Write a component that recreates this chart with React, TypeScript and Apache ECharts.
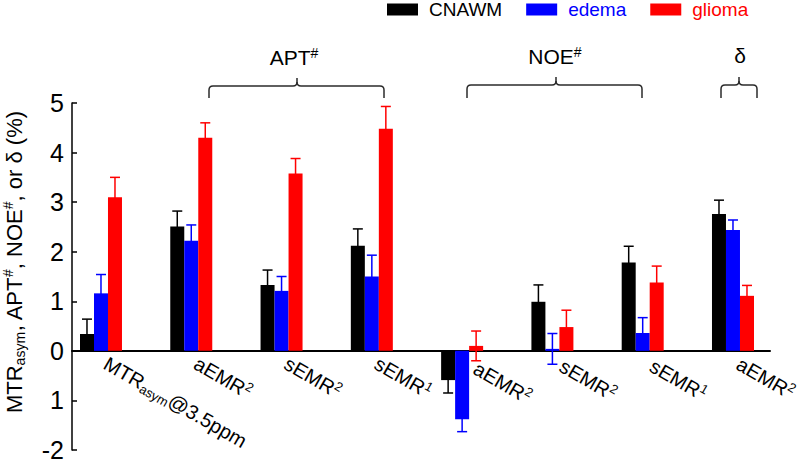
import React, { useEffect, useRef } from "react";
import * as echarts from "echarts";

// ---- data ----
const categories = [
  "MTR_{asym}@3.5ppm",
  "aEMR^{2}",
  "sEMR^{2}",
  "sEMR^{1}",
  "aEMR^{2}",
  "sEMR^{2}",
  "sEMR^{1}",
  "aEMR^{2}",
];
const seriesNames = ["CNAWM", "edema", "glioma"];
const seriesColors = ["#000000", "#0000ff", "#ff0000"];
const cnawm = [0.34, 2.51, 1.33, 2.12, -0.59, 0.99, 1.78, 2.76];
const cnawmErr = [0.3, 0.31, 0.3, 0.34, 0.26, 0.34, 0.33, 0.28];
const edema = [1.16, 2.22, 1.21, 1.5, -1.38, 0.04, 0.36, 2.44];
const edemaErr = [0.38, 0.32, 0.29, 0.43, 0.25, 0.31, 0.31, 0.2];
const glioma = [3.1, 4.3, 3.58, 4.48, 0.1, 0.48, 1.38, 1.11];
const gliomaErr = [0.4, 0.3, 0.3, 0.45, 0.3, 0.34, 0.33, 0.21];
const yTickValues = [-2, -1, 0, 1, 2, 3, 4, 5];
const yTickLabels = ["-2", "1", "0", "1", "2", "3", "4", "5"];
const groupNames = ["APT^{#}", "NOE^{#}", "δ"];
const yTitle = "MTR_{asym}, APT^{#}, NOE^{#}, or δ (%)";

const FONT = "Liberation Sans, Arial, sans-serif";

function toRich(s: string, base: string, sub: string, sup: string) {
  const out: string[] = [];
  const re = /(_\{([^}]*)\}|\^\{([^}]*)\})/g;
  let last = 0;
  let m: RegExpExecArray | null;
  while ((m = re.exec(s))) {
    if (m.index > last) out.push(`{${base}|${s.slice(last, m.index)}}`);
    if (m[2] !== undefined) out.push(`{${sub}|${m[2]}}`);
    else out.push(`{${sup}|${m[3]}}`);
    last = m.index + m[0].length;
  }
  if (last < s.length) out.push(`{${base}|${s.slice(last)}}`);
  return out.join("");
}

function brace(x0: number, x1: number, xm: number, yb: number, yh: number, yp: number) {
  const r = 4;
  const st = { stroke: "#2a2a2a", lineWidth: 1.5, fill: null as any };
  return [
    { type: "line", shape: { x1: x0, y1: yb, x2: x0, y2: yh + r }, style: st },
    { type: "bezierCurve", shape: { x1: x0, y1: yh + r, cpx1: x0, cpy1: yh, x2: x0 + r, y2: yh }, style: st },
    { type: "line", shape: { x1: x0 + r, y1: yh, x2: xm - r, y2: yh }, style: st },
    { type: "bezierCurve", shape: { x1: xm - r, y1: yh, cpx1: xm, cpy1: yh, x2: xm, y2: yh - r }, style: st },
    { type: "bezierCurve", shape: { x1: xm + r, y1: yh, cpx1: xm, cpy1: yh, x2: xm, y2: yh - r }, style: st },
    { type: "line", shape: { x1: xm, y1: yh - r, x2: xm, y2: yp }, style: st },
    { type: "line", shape: { x1: xm + r, y1: yh, x2: x1 - r, y2: yh }, style: st },
    { type: "bezierCurve", shape: { x1: x1 - r, y1: yh, cpx1: x1, cpy1: yh, x2: x1, y2: yh + r }, style: st },
    { type: "line", shape: { x1: x1, y1: yh + r, x2: x1, y2: yb }, style: st },
  ];
}

export default function App() {
  const ref = useRef<HTMLDivElement>(null);
  useEffect(() => {
    if (!ref.current) return;
    const chart = echarts.init(ref.current, undefined, { renderer: "svg" });
    const values = [cnawm, edema, glioma];
    const errs = [cnawmErr, edemaErr, gliomaErr];
    const barW = 14;
    const offsets = [-barW, 0, barW];

    const barSeries = values.map((vals, s) => ({
      type: "bar",
      name: seriesNames[s],
      data: vals.map((v, i) => [i, v]),
      barWidth: barW,
      barGap: "0%",
      itemStyle: { color: seriesColors[s] },
      z: 3,
      silent: true,
    }));
    const errSeries = values.map((vals, s) => ({
      type: "custom",
      name: seriesNames[s] + " SD",
      data: vals.map((v, i) => [i, v - errs[s][i], v + errs[s][i]]),
      encode: { x: 0, y: [1, 2] },
      z: 1,
      silent: true,
      renderItem: (params: any, api: any) => {
        const x = api.value(0);
        const pHi = api.coord([x, api.value(2)]);
        const pLo = api.coord([x, api.value(1)]);
        const cx = pHi[0] + offsets[s];
        const hw = 5;
        const st = { stroke: seriesColors[s], lineWidth: 1.5 };
        return {
          type: "group",
          children: [
            { type: "line", shape: { x1: cx, y1: pHi[1], x2: cx, y2: pLo[1] }, style: st },
            { type: "line", shape: { x1: cx - hw, y1: pHi[1], x2: cx + hw, y2: pHi[1] }, style: st },
            { type: "line", shape: { x1: cx - hw, y1: pLo[1], x2: cx + hw, y2: pLo[1] }, style: st },
          ],
        };
      },
    }));

    const labelPad = [0, 0, 0, 0, 10, 5, 5, 1];
    const ang = Math.PI / 6;
    const labelSeries = {
      type: "custom",
      name: "labels",
      data: categories.map((_, i) => [i, 0]),
      encode: { x: 0, y: 1 },
      z: 5,
      silent: true,
      renderItem: (params: any, api: any) => {
        const i = Math.round(api.value(0));
        const p = api.coord([i, 0]);
        const pad = labelPad[i] || 0;
        const ax = p[0] + 4.5 + pad * Math.cos(ang);
        const ay = p[1] + 11 + pad * Math.sin(ang);
        return {
          type: "text",
          x: ax,
          y: ay,
          rotation: -ang,
          style: {
            text: toRich(categories[i], "b", "sub", "sup"),
            align: "left",
            verticalAlign: "middle",
            rich: {
              b: { fontSize: 20, lineHeight: 23, fontFamily: FONT, fill: "#000" },
              sub: { fontSize: 13, lineHeight: 13, verticalAlign: "bottom", fontFamily: FONT, fill: "#000" },
              sup: { fontSize: 13, lineHeight: 13, verticalAlign: "top", fontFamily: FONT, fill: "#000" },
            },
          },
        };
      },
    };

    const option: any = {
      animation: false,
      textStyle: { fontFamily: FONT },
      grid: { left: 72, right: 30, top: 103, bottom: 11, containLabel: false, outerBoundsMode: "none" },
      legend: {
        left: 387,
        top: 0,
        padding: 0,
        icon: "rect",
        itemWidth: 31,
        itemHeight: 12,
        itemGap: 24,
        selectedMode: false,
        textStyle: { fontSize: 19, fontFamily: FONT, padding: [0, 0, 0, 6] },
        data: seriesNames.map((n, i) => ({ name: n, textStyle: { color: seriesColors[i] } })),
      },
      xAxis: {
        type: "value",
        min: -0.321,
        max: 7.41,
        axisLine: { onZero: true, lineStyle: { color: "#000", width: 2 } },
        axisTick: { show: false },
        splitLine: { show: false },
        axisLabel: { show: false },
      },
      yAxis: {
        type: "value",
        min: -2,
        max: 5,
        interval: 1,
        axisLine: { show: true, onZero: false, lineStyle: { color: "#000", width: 1.5 } },
        axisTick: { show: true, inside: true, length: 5, lineStyle: { color: "#000", width: 1.5 } },
        splitLine: { show: false },
        axisLabel: {
          fontSize: 25,
          color: "#000",
          margin: 8,
          fontFamily: FONT,
          formatter: (v: number) => {
            const k = yTickValues.indexOf(Math.round(v));
            return k >= 0 ? yTickLabels[k] : "";
          },
        },
      },
      graphic: [
        {
          type: "text",
          x: 14,
          y: 262,
          rotation: Math.PI / 2,
          style: {
            text: toRich(yTitle, "b", "sub", "sup"),
            align: "center",
            verticalAlign: "middle",
            rich: {
              b: { fontSize: 22, lineHeight: 26, fontFamily: FONT, fill: "#000" },
              sub: { fontSize: 14, lineHeight: 14, verticalAlign: "bottom", fontFamily: FONT, fill: "#000" },
              sup: { fontSize: 14, lineHeight: 14, verticalAlign: "top", fontFamily: FONT, fill: "#000" },
            },
          },
        },
        ...brace(209, 384, 297, 98, 86, 78),
        ...brace(467, 642, 556, 98, 85, 77),
        ...brace(721, 757, 739, 98, 85, 77),
        ...[
          { x: 294, y: 68 },
          { x: 555, y: 67 },
          { x: 740, y: 66 },
        ].map((p, i) => ({
          type: "text",
          x: p.x,
          y: p.y,
          style: {
            text: toRich(groupNames[i], "b", "sub", "sup"),
            align: "center",
            verticalAlign: "bottom",
            rich: {
              b: { fontSize: 21, lineHeight: 22, fontFamily: FONT, fill: "#000" },
              sup: { fontSize: 14, lineHeight: 14, verticalAlign: "top", fontFamily: FONT, fill: "#000" },
            },
          },
        })),
      ],
      series: [...errSeries, ...barSeries, labelSeries],
    };
    chart.setOption(option);
    return () => chart.dispose();
  }, []);
  return (
    <div
      ref={ref}
      style={{ position: "fixed", left: 0, top: 0, width: 800, height: 461, background: "#fff" }}
    />
  );
}
